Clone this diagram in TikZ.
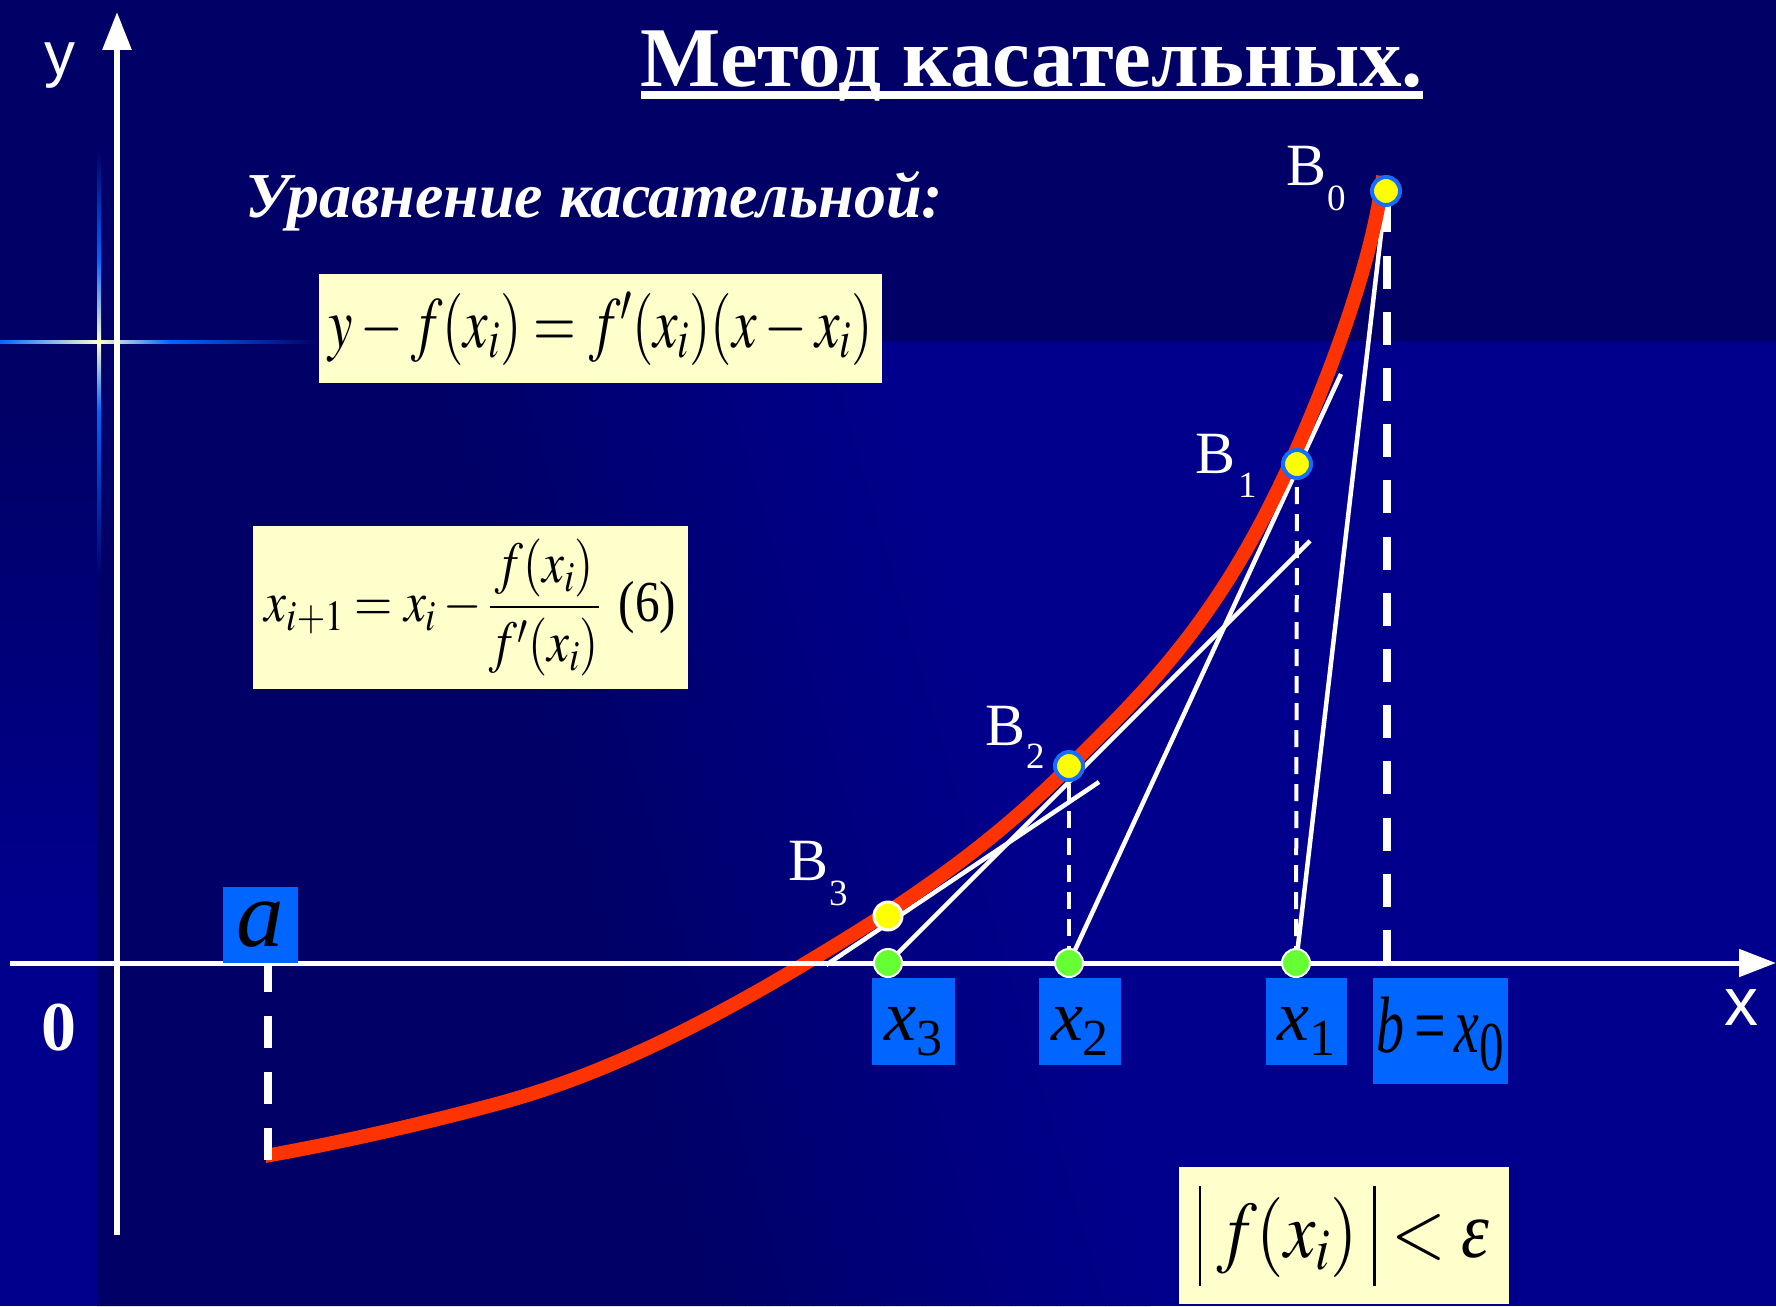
\documentclass[tikz,border=0pt]{standalone}
\usepackage{mathptmx}
\usepackage{fontspec}
\setmainfont{Liberation Serif}
\newfontfamily\arialfont{Liberation Sans}
\usetikzlibrary{arrows.meta}
\definecolor{bgdark}{RGB}{0,0,102}
\definecolor{bglight}{RGB}{0,0,140}
\definecolor{boxyellow}{RGB}{255,255,204}
\definecolor{boxblue}{RGB}{0,102,255}
\definecolor{curvered}{RGB}{255,51,0}
\definecolor{dotgreen}{RGB}{102,255,51}
\definecolor{dotyellow}{RGB}{255,255,0}
\definecolor{rimblue}{RGB}{20,110,255}
\definecolor{glowblue}{RGB}{0,102,255}
\definecolor{glowcream}{RGB}{255,255,204}
\newcommand\fsz[1]{\fontsize{#1}{#1}\selectfont}
\begin{document}
\begin{tikzpicture}[x=1pt,y=-1pt,
  tline/.style={white, line width=4.5pt},
  thindash/.style={white, line width=4pt, dash pattern=on 17pt off 10pt},
  thickdash/.style={white, line width=8pt, dash pattern=on 33pt off 23.2pt},
  ybox/.style={fill=boxyellow, inner sep=0pt, text=black},
  bbox/.style={fill=boxblue, inner sep=0pt, text=black},
  ydot/.style={circle, fill=dotyellow, draw=rimblue, line width=4pt, minimum size=28pt, inner sep=0pt},
  wdot/.style={circle, fill=dotyellow, draw=white, line width=3pt, minimum size=28pt, inner sep=0pt},
  gdot/.style={circle, fill=dotgreen, draw=white, line width=2pt, minimum size=28pt, inner sep=0pt},
  blab/.style={anchor=base west, inner sep=0pt, text=white, font=\fsz{60}},
  axlab/.style={anchor=base, inner sep=0pt, text=white},
]
\useasboundingbox (0,0) rectangle (1776,1306);
% background
\fill[bgdark] (0,0) rectangle (1776,1306);
\fill[bglight] (97,341) rectangle (1776,1306);
\fill[bgdark] (97,341) -- (420,341) -- (700,1306) -- (97,1306) -- cycle;
\foreach \i in {0,...,19}{
  \pgfmathsetmacro\ta{420+22.5*\i}
  \pgfmathsetmacro\tb{420+22.5*(\i+1)+0.6}
  \pgfmathsetmacro\ba{700+22.5*\i}
  \pgfmathsetmacro\bb{700+22.5*(\i+1)+0.6}
  \pgfmathsetmacro\pct{97.5-5*\i}
  \fill[bgdark!\pct!bglight] (\ta,341) -- (\tb,341) -- (\bb,1306) -- (\ba,1306) -- cycle;
}
\shade[top color=bgdark, bottom color=bglight] (0,400) rectangle (97,900);
\fill[bglight] (0,900) rectangle (97,1306);
% glow lines
\shade[left color=glowblue, right color=glowcream] (0,340.5) rectangle (99,343.5);
\shade[left color=glowcream, right color=glowblue] (99,340.5) rectangle (170,343.5);
\shade[left color=glowblue, right color=bgdark] (170,340.5) rectangle (320,343.5);
\shade[top color=bgdark, bottom color=glowblue] (97,150) rectangle (101,260);
\shade[top color=glowblue, bottom color=glowcream] (97,260) rectangle (101,342);
\shade[top color=glowcream, bottom color=glowblue] (97,342) rectangle (101,410);
\shade[top color=glowblue, bottom color=bgdark] (97,410) rectangle (101,580);

% coordinates
\coordinate (ybot) at (117,1235);
\coordinate (ytop) at (117,12);
\coordinate (xleft) at (10,963);
\coordinate (xright) at (1776,963);
\coordinate (pB0) at (1386,191);
\coordinate (pB1) at (1297,464);
\coordinate (pB2) at (1069,766);
\coordinate (pB3) at (888,916);
\coordinate (pX1) at (1296,963);
\coordinate (pX2) at (1069,963);
\coordinate (pX3) at (888,963);
\coordinate (pX0) at (1387,963);
\coordinate (pX0top) at (1387,205);
\coordinate (pA) at (268,963);
\coordinate (pAcurve) at (268,1160);
\coordinate (t1end) at (1341,374);
\coordinate (t2end) at (1310,541);
\coordinate (t3start) at (826,965);
\coordinate (t3end) at (1099,782);

% y axis
\draw[white, line width=6pt, -{Triangle[length=38pt,width=28pt]}] (ybot) -- (ytop);

% dashed verticals
\draw[thickdash] (pX0) -- (pX0top);
\draw[thindash] (pX1) -- (pB1);
\draw[thindash] (pX2) -- (pB2);

% tangents
\draw[tline] (pB0) -- (pX1);
\draw[tline] (pX2) -- (t1end);
\draw[tline] (pX3) -- (t2end);
\draw[tline] (t3start) -- (t3end);

% curve
\draw[curvered, line width=14pt] (265,1156) .. controls (343.3,1141.9) and (421.7,1124.1) .. (500,1103)
  .. controls (602,1075.5) and (704,1024.2) .. (806,963)
  .. controls (893.7,910.4) and (981.3,854.7) .. (1069,767)
  .. controls (1142.7,693.3) and (1216.3,625.3) .. (1290,464)
  .. controls (1315,409) and (1371,276) .. (1383,176);

% x axis
\draw[white, line width=5pt, -{Triangle[length=37pt,width=27pt]}] (xleft) -- (xright);

% a dashed line
\draw[white, line width=8pt, dash pattern=on 32pt off 24pt] (pAcurve) -- (pA);

% blue label boxes
\node[bbox, minimum width=75pt, minimum height=76pt, font=\fsz{95}\itshape] (abox) at (260.5,925) {a};
\node[bbox, minimum width=83pt, minimum height=87pt, text height=50pt, text depth=13pt, font=\fsz{72}] (x3box) at (913.5,1021.5) {\textit{x}\raisebox{-15pt}{\fsz{52}3}};
\node[bbox, minimum width=82pt, minimum height=87pt, text height=50pt, text depth=13pt, font=\fsz{72}] (x2box) at (1080,1021.5) {\textit{x}\raisebox{-15pt}{\fsz{52}2}};
\node[bbox, minimum width=81pt, minimum height=87pt, text height=50pt, text depth=13pt, font=\fsz{72}] (x1box) at (1306.5,1021.5) {\textit{x}\raisebox{-15pt}{\fsz{52}1}};
\node[bbox, minimum width=135pt, minimum height=106pt, text height=56pt, text depth=14pt, font=\fsz{80}] (x0box) at (1440.5,1031) {\scalebox{0.7}[1]{\textit{b}\,=\,\textit{x}\raisebox{-18pt}{\fsz{70}0}}};

% dots
\node[ydot] (B0) at (pB0) {};
\node[ydot] (B1) at (pB1) {};
\node[ydot] (B2) at (pB2) {};
\node[wdot] (B3) at (pB3) {};
\node[gdot] (X1) at (pX1) {};
\node[gdot] (X2) at (pX2) {};
\node[gdot] (X3) at (pX3) {};

% B labels
\node[blab] (lB0) at (1286,185) {B\kern1pt\raisebox{-25pt}{\fsz{37}0}};
\node[blab] (lB1) at (1195,473) {B\kern3pt\raisebox{-24pt}{\fsz{37}1}};
\node[blab] (lB2) at (985,745) {B\kern1pt\raisebox{-23pt}{\fsz{37}2}};
\node[blab] (lB3) at (788,880) {B\kern1pt\raisebox{-25pt}{\fsz{37}3}};

% axis labels
\node[axlab, font=\arialfont\fsz{62}] (ylab) at (60,75) {y};
\node[axlab, font=\arialfont\fsz{68}] (xlab) at (1741,1025) {x};
\node[axlab, font=\bfseries\fsz{70}] (zero) at (59,1050) {0};

% title
\node[anchor=base, inner sep=0pt, text=white, font=\bfseries\fsz{85}] (title) at (1032,86) {Метод касательных.};
\fill[white] ([yshift=-5pt]title.base west) rectangle ([yshift=-13pt]title.base east);
\node[anchor=base west, inner sep=0pt, text=white, font=\bfseries\itshape\fsz{64}] (eqtitle) at (245,217) {Уравнение касательной:};

% formula boxes
\node[ybox, minimum width=563pt, minimum height=109pt, font=\fsz{72}] (f1) at (600.5,328.5) {\scalebox{0.765}[1]{$y-f(x_i)=f'(x_i)(x-x_i)$}};
\node[ybox, minimum width=435pt, minimum height=163pt, font=\fsz{58}] (f6) at (470.5,607.5) {\scalebox{0.85}[1]{$x_{i+1}=x_i-\displaystyle\frac{f(x_i)}{f'(x_i)}$\hspace{22pt}(6)}};
\node[ybox, minimum width=330pt, minimum height=137pt, font=\fsz{80}] (fstop) at (1344,1235.5) {\scalebox{0.88}[1]{$\vrule width 2.5pt height 72pt depth 28pt\;f(x_i)\;\vrule width 2.5pt height 72pt depth 28pt<\textit{ε}$}};
\end{tikzpicture}
\end{document}
